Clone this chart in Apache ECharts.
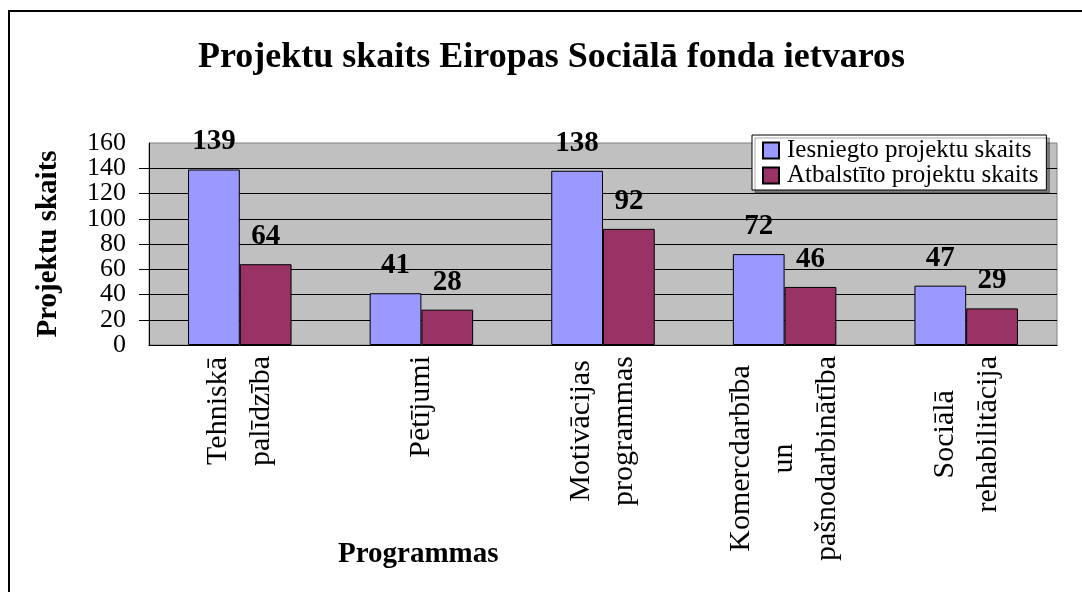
<!DOCTYPE html>
<html style="height: 100%">
<head>
    <meta charset="utf-8">
</head>
<body style="height: 100%; margin: 0">
<div id="container" style="width: 1082px; height: 592px"></div>

<script type="text/javascript" src="https://cdn.jsdelivr.net/npm/echarts@6/dist/echarts.min.js"></script>

<script type="text/javascript">
    var categories = [
        'Tehniskā\npalīdzība',
        'Pētījumi',
        'Motivācijas\nprogrammas',
        'Komercdarbība\nun\npašnodarbinātība',
        'Sociālā\nrehabilitācija'
    ];
    var submitted = [139, 41, 138, 72, 47];
    var supported = [64, 28, 92, 46, 29];
    var seriesNames = ['Iesniegto projektu skaits', 'Atbalstīto projektu skaits'];
    var yTicks = { min: 0, max: 160, interval: 20 };

    var FONT = '"Liberation Serif", "Times New Roman", serif';

    var dom = document.getElementById('container');
    var myChart = echarts.init(dom);

    var barLabel = {
        show: true,
        position: 'top',
        distance: 13,
        color: '#000',
        fontFamily: FONT,
        fontWeight: 'bold',
        fontSize: 29
    };

    var yLabelStyle = {
        margin: 23,
        color: '#000',
        fontFamily: FONT,
        fontSize: 26
    };

    var option = {
        backgroundColor: '#fff',
        animation: false,
        title: {
            text: 'Projektu skaits Eiropas Sociālā fonda ietvaros',
            left: 193,
            top: 35,
            textStyle: {
                fontFamily: FONT,
                fontWeight: 'bold',
                fontSize: 36,
                color: '#000'
            }
        },
        legend: {
            orient: 'vertical',
            left: 752,
            top: 135,
            padding: [3, 8, 2, 10],
            itemGap: 0,
            itemWidth: 16,
            itemHeight: 16,
            icon: 'rect',
            backgroundColor: '#fff',
            borderColor: '#000',
            borderWidth: 1,
            shadowColor: 'rgba(0,0,0,0.35)',
            shadowOffsetX: 3,
            shadowOffsetY: 3,
            textStyle: {
                fontFamily: FONT,
                fontSize: 25,
                lineHeight: 25,
                color: '#000',
                padding: [0, 0, 0, 3]
            },
            data: seriesNames
        },
        grid: {
            left: 149,
            right: 25,
            top: 143,
            bottom: 247,
            show: true,
            backgroundColor: '#C0C0C0',
            borderColor: '#808080',
            borderWidth: 1
        },
        xAxis: {
            type: 'category',
            data: categories,
            axisLine: { lineStyle: { color: '#000', width: 1 } },
            axisTick: { length: 10, lineStyle: { color: '#000' } },
            axisLabel: {
                interval: 0,
                rotate: 90,
                margin: 11,
                color: '#000',
                formatter: function (v) {
                    return v.split('\n').map(function (s) {
                        return '{a|' + s + '}';
                    }).join('\n');
                },
                rich: {
                    a: {
                        fontFamily: FONT,
                        fontSize: 30,
                        lineHeight: 43,
                        align: 'center',
                        color: '#000'
                    }
                }
            }
        },
        yAxis: [
            {
                type: 'value',
                min: yTicks.min,
                max: yTicks.max,
                interval: yTicks.interval,
                name: 'Projektu skaits',
                nameLocation: 'middle',
                nameGap: 86,
                nameTextStyle: {
                    fontFamily: FONT,
                    fontWeight: 'bold',
                    fontSize: 29,
                    color: '#000'
                },
                axisLine: { show: true, lineStyle: { color: '#000', width: 1 } },
                axisTick: { show: true, length: 10, lineStyle: { color: '#000' } },
                axisLabel: Object.assign({ showMinLabel: false, showMaxLabel: false }, yLabelStyle),
                splitLine: {
                    show: true,
                    showMaxLine: false,
                    lineStyle: { color: '#000', width: 1 }
                }
            },
            {
                // end labels (0 and 160) on their own, so neighbours are not dropped
                type: 'value',
                position: 'left',
                min: yTicks.min,
                max: yTicks.max,
                interval: yTicks.max - yTicks.min,
                axisLine: { show: false },
                axisTick: { show: false },
                splitLine: { show: false },
                axisLabel: Object.assign({ showMinLabel: true, showMaxLabel: true }, yLabelStyle)
            }
        ],
        graphic: [
            {
                type: 'rect',
                silent: true,
                shape: { x: 9, y: 11, width: 1100, height: 620 },
                style: { fill: 'none', stroke: '#000', lineWidth: 2 }
            },
            {
                type: 'text',
                left: 338,
                top: 540,
                style: {
                    text: 'Programmas',
                    fontFamily: FONT,
                    fontWeight: 'bold',
                    fontSize: 29,
                    fill: '#000'
                }
            }
        ],
        series: [
            {
                name: seriesNames[0],
                type: 'bar',
                data: submitted,
                barGap: 0,
                barCategoryGap: '43%',
                itemStyle: { color: '#9999FF', borderColor: '#000', borderWidth: 1 },
                label: barLabel
            },
            {
                name: seriesNames[1],
                type: 'bar',
                data: supported,
                barGap: 0,
                barCategoryGap: '43%',
                itemStyle: { color: '#993366', borderColor: '#000', borderWidth: 1 },
                label: barLabel
            }
        ]
    };

    myChart.setOption(option);
</script>
</body>
</html>
